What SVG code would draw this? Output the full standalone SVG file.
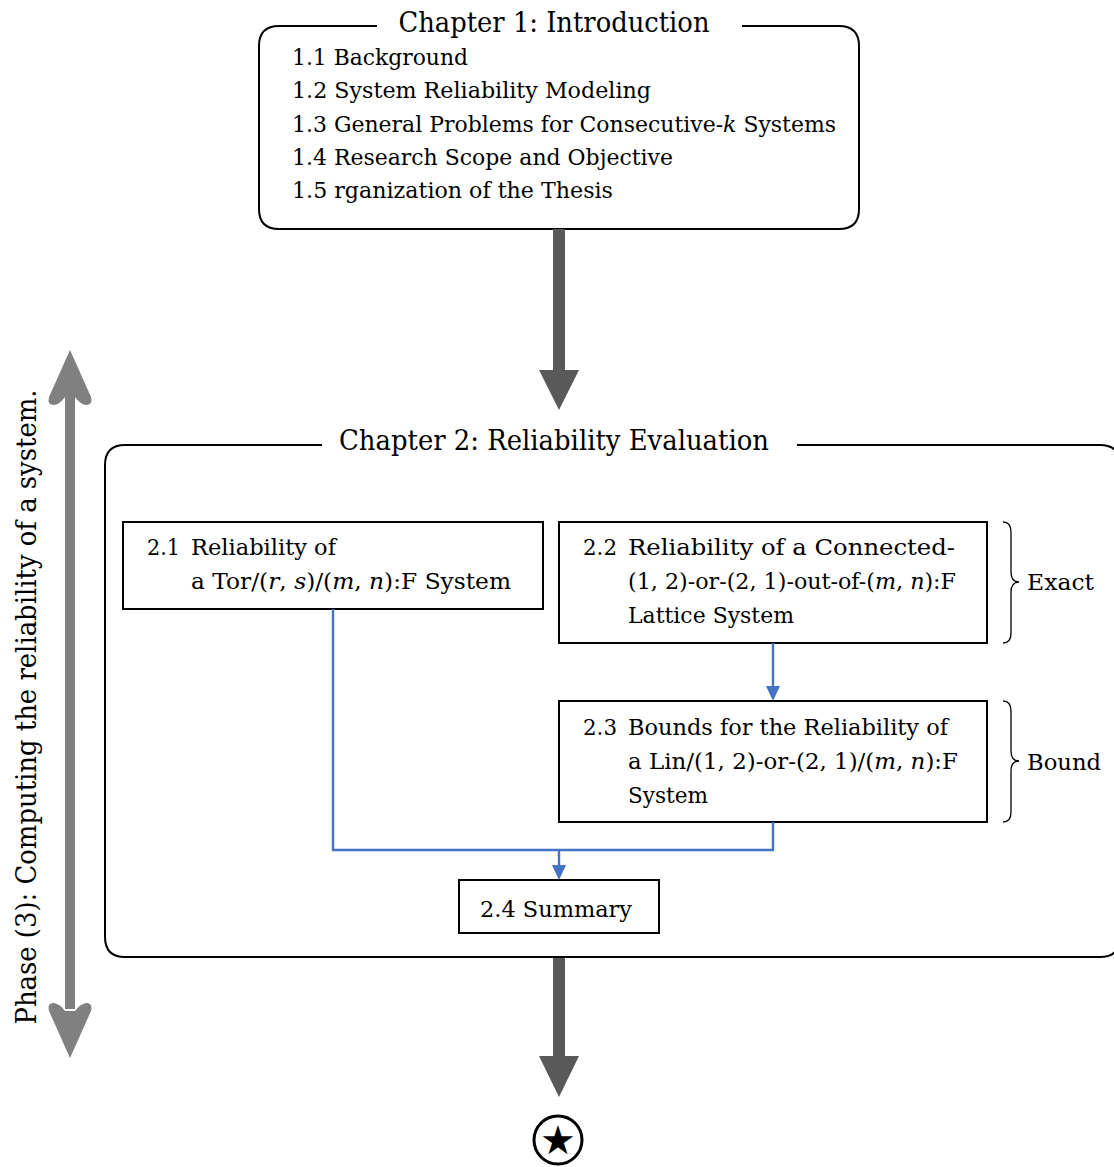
<svg xmlns="http://www.w3.org/2000/svg" width="1114" height="1167" viewBox="0 0 1114 1167" font-family="'DejaVu Serif', serif">
  <defs>
    <style>
      .title { font-size: 28px; }
      .item { font-size: 22px; }
      .m { font-style: italic; }
      .frame { fill: none; stroke: #000; stroke-width: 2; }
      .box { fill: #fff; stroke: #000; stroke-width: 2; }
      .link { fill: none; stroke: #4472C4; stroke-width: 2.4; }
      .head { fill: #4472C4; }
      .brace { fill: none; stroke: #000; stroke-width: 1.3; }
      .big { fill: #595959; }
      .span { fill: #808080; }
    </style>
  </defs>

  <!-- Chapter 1 -->
  <g id="chapter1">
    <path class="frame" d="M377,26 L279,26 Q259,26 259,46 L259,209 Q259,229 279,229 L839,229 Q859,229 859,209 L859,46 Q859,26 839,26 L742,26"/>
    <text class="title" x="554" y="32" text-anchor="middle" textLength="311" lengthAdjust="spacingAndGlyphs">Chapter 1: Introduction</text>
    <text class="item" x="292" y="65" textLength="176" lengthAdjust="spacingAndGlyphs">1.1  Background</text>
    <text class="item" x="292" y="98" textLength="359" lengthAdjust="spacingAndGlyphs">1.2  System Reliability Modeling</text>
    <text class="item" x="292" y="132" textLength="544" lengthAdjust="spacingAndGlyphs">1.3  General Problems for Consecutive-<tspan class="m">k</tspan> Systems</text>
    <text class="item" x="292" y="165" textLength="381" lengthAdjust="spacingAndGlyphs">1.4  Research Scope and Objective</text>
    <text class="item" x="292" y="198" textLength="321" lengthAdjust="spacingAndGlyphs">1.5  rganization of the Thesis</text>
  </g>

  <!-- thick flow arrows between chapters -->
  <g id="flow-arrows">
    <rect class="big" x="553" y="229" width="12" height="142"/>
    <path class="big" d="M539,370 L579,370 L559,410 Z"/>
    <rect class="big" x="553" y="957" width="12" height="100"/>
    <path class="big" d="M539,1056 L579,1056 L559,1097 Z"/>
  </g>

  <!-- Chapter 2 -->
  <g id="chapter2">
    <path class="frame" d="M322,445 L125,445 Q105,445 105,465 L105,937 Q105,957 125,957 L1100,957 Q1120,957 1120,937 L1120,465 Q1120,445 1100,445 L797,445"/>
    <text class="title" x="554" y="450" text-anchor="middle" textLength="430" lengthAdjust="spacingAndGlyphs">Chapter 2: Reliability Evaluation</text>
  </g>

  <g id="sec2-1">
    <rect class="box" x="123" y="522" width="420" height="87"/>
    <text class="item" x="147" y="555" textLength="33" lengthAdjust="spacingAndGlyphs">2.1</text>
    <text class="item" x="191" y="555" textLength="145" lengthAdjust="spacingAndGlyphs">Reliability of</text>
    <text class="item" x="191" y="589" textLength="320" lengthAdjust="spacingAndGlyphs">a Tor/(<tspan class="m">r</tspan>, <tspan class="m">s</tspan>)/(<tspan class="m">m</tspan>, <tspan class="m">n</tspan>):F System</text>
  </g>

  <g id="sec2-2">
    <rect class="box" x="559" y="522" width="428" height="121"/>
    <text class="item" x="583" y="555" textLength="34" lengthAdjust="spacingAndGlyphs">2.2</text>
    <text class="item" x="628" y="555" textLength="327" lengthAdjust="spacingAndGlyphs">Reliability of a Connected-</text>
    <text class="item" x="628" y="589" textLength="328" lengthAdjust="spacingAndGlyphs">(1, 2)-or-(2, 1)-out-of-(<tspan class="m">m</tspan>, <tspan class="m">n</tspan>):F</text>
    <text class="item" x="628" y="623" textLength="166" lengthAdjust="spacingAndGlyphs">Lattice System</text>
  </g>

  <g id="sec2-3">
    <rect class="box" x="559" y="701" width="428" height="121"/>
    <text class="item" x="583" y="735" textLength="34" lengthAdjust="spacingAndGlyphs">2.3</text>
    <text class="item" x="628" y="735" textLength="320" lengthAdjust="spacingAndGlyphs">Bounds for the Reliability of</text>
    <text class="item" x="628" y="769" textLength="330" lengthAdjust="spacingAndGlyphs">a Lin/(1, 2)-or-(2, 1)/(<tspan class="m">m</tspan>, <tspan class="m">n</tspan>):F</text>
    <text class="item" x="628" y="803" textLength="80" lengthAdjust="spacingAndGlyphs">System</text>
  </g>

  <g id="sec2-4">
    <rect class="box" x="459" y="880" width="200" height="53"/>
    <text class="item" x="480" y="917" textLength="152" lengthAdjust="spacingAndGlyphs">2.4  Summary</text>
  </g>

  <!-- braces with their labels -->
  <g id="exact">
    <path class="brace" d="M1003,522 Q1011,522 1011,532 L1011,572 Q1011,582 1019,582 Q1011,582 1011,592 L1011,633 Q1011,643 1003,643"/>
    <text class="item" x="1027" y="590" textLength="67" lengthAdjust="spacingAndGlyphs">Exact</text>
  </g>
  <g id="bound">
    <path class="brace" d="M1003,701 Q1011,701 1011,711 L1011,751 Q1011,761 1019,761 Q1011,761 1011,771 L1011,812 Q1011,822 1003,822"/>
    <text class="item" x="1027" y="770" textLength="74" lengthAdjust="spacingAndGlyphs">Bound</text>
  </g>

  <!-- connectors between sections -->
  <g id="connectors">
    <path class="link" d="M773,643 L773,688"/>
    <path class="head" d="M766,686 L780,686 L773,701 Z"/>
    <path class="link" d="M333,609 L333,850 L773,850 L773,822"/>
    <path class="link" d="M559,850 L559,867"/>
    <path class="head" d="M552,865 L566,865 L559,880 Z"/>
  </g>

  <!-- phase span arrow -->
  <g id="phase">
    <rect class="span" x="65" y="395" width="10" height="614"/>
    <path class="span" d="M70,350 L91,397 Q93,405 86,405 Q80,404 75,397 L65,397 Q60,404 54,405 Q47,405 49,397 Z"/>
    <path class="span" d="M70,1058 L91,1011 Q93,1003 86,1003 Q80,1004 75,1011 L65,1011 Q60,1004 54,1003 Q47,1003 49,1011 Z"/>
    <text transform="translate(36,707) rotate(-90)" x="0" y="0" text-anchor="middle" font-size="27" textLength="635" lengthAdjust="spacingAndGlyphs">Phase (3): Computing the reliability of a system.</text>
  </g>

  <!-- end marker -->
  <g id="end">
    <circle cx="558" cy="1140" r="24" fill="none" stroke="#000" stroke-width="3"/>
    <text x="558" y="1154" text-anchor="middle" font-family="'DejaVu Sans', sans-serif" font-size="40">★</text>
  </g>
</svg>
